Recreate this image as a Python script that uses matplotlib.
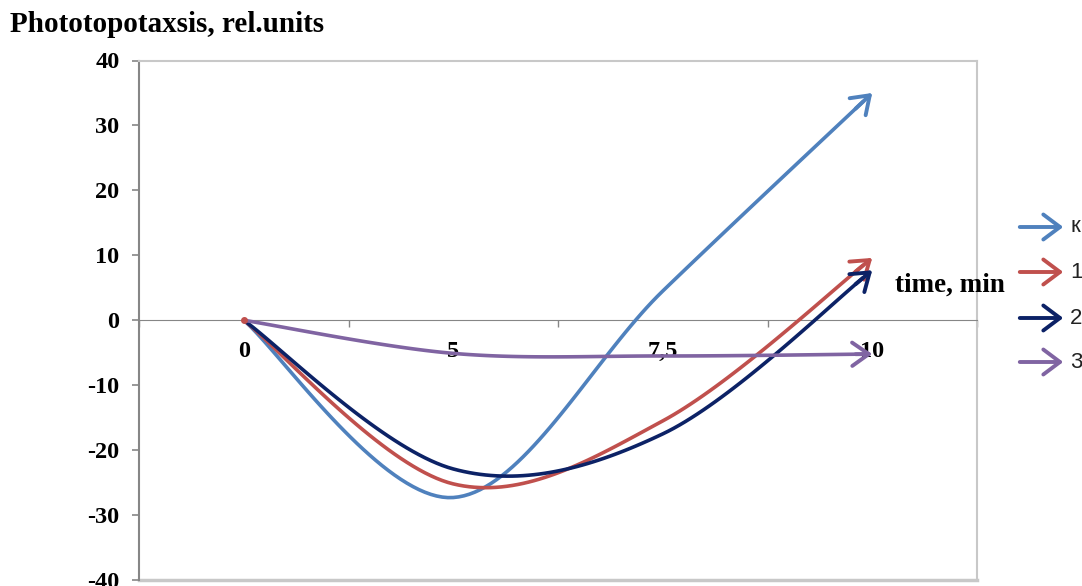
import numpy as np
import matplotlib
matplotlib.use('Agg')
import matplotlib.pyplot as plt
from matplotlib.patches import FancyArrowPatch

# category labels on the x axis (Excel category axis)
time_labels = ['0', '5', '7,5', '10']
# series values
control = [0, -27.3, 4.5, 35]
series_1 = [0, -25.2, -15.5, 9.6]
series_2 = [0, -22.9, -17.5, 7.7]
series_3 = [0, -5.1, -5.5, -5.2]
names = ['к', '1', '2', '3']
colors = ['#4F81BD', '#C0504D', '#0C2266', '#8064A2']


def excel_smooth(x, y, n=40):
    # cubic bezier through the points, Excel style (catmull-rom / 6)
    P = np.column_stack([x, y]).astype(float)
    P_ext = np.vstack([P[0], P, P[-1]])
    out = []
    t = np.linspace(0, 1, n)[:, None]
    for i in range(len(P) - 1):
        p0, p1, p2, p3 = P_ext[i], P_ext[i+1], P_ext[i+2], P_ext[i+3]
        c1 = p1 + (p2 - p0) / 6.0
        c2 = p2 - (p3 - p1) / 6.0
        seg = (1-t)**3*p1 + 3*(1-t)**2*t*c1 + 3*(1-t)*t**2*c2 + t**3*p2
        out.append(seg if i == 0 else seg[1:])
    s = np.vstack(out)
    return s[:, 0], s[:, 1]


plt.rcParams['font.family'] = ['Liberation Serif', 'DejaVu Serif']
plt.rcParams['axes.unicode_minus'] = False

fig = plt.figure(figsize=(10.82, 5.86), dpi=100)
ax = fig.add_axes([139/1082, 1-580/586, (977-139)/1082, (580-60.5)/586])

xs = np.arange(len(time_labels))
data = [control, series_1, series_2, series_3]
for vals, c in zip(data, colors):
    sx, sy = excel_smooth(xs, vals)
    ax.plot(sx[:-3], sy[:-3], color=c, lw=2.6, solid_capstyle='round', zorder=3)
    ax.annotate('', xy=(sx[-1], sy[-1]), xytext=(sx[-6], sy[-6]),
                arrowprops=dict(arrowstyle='->,head_length=0.6,head_width=0.42',
                                color=c, lw=2.8, shrinkA=0, shrinkB=0,
                                mutation_scale=20), zorder=3)
ax.plot(xs[0], series_1[0], 'o', color=colors[1], ms=4, zorder=4)

ax.set_xlim(-0.5, 3.5)
ax.set_ylim(-40, 40)
ax.set_yticks(np.arange(-40, 41, 10))
ax.set_xticks(xs)
ax.set_xticklabels(time_labels)
ax.set_xticks(np.arange(-0.5, 3.6, 1), minor=True)

ax.spines['bottom'].set_position(('data', 0))
ax.spines['bottom'].set_color('#868686')
ax.spines['left'].set_color('#868686')
ax.spines['left'].set_linewidth(1.5)
for s in ['top', 'right']:
    ax.spines[s].set_color('#c8c8c8')
    ax.spines[s].set_linewidth(1.5)
ax.axhline(-40, color='#c8c8c8', lw=2.5, zorder=1, clip_on=False)

ax.tick_params(axis='y', direction='out', length=5, width=1.2, color='#868686',
               pad=9, labelsize=17.5)
ax.tick_params(axis='x', which='major', length=0, pad=15, labelsize=17.5)
ax.tick_params(axis='x', which='minor', direction='out', length=5, width=1,
               color='#868686')
for lab in ax.get_xticklabels() + ax.get_yticklabels():
    lab.set_fontweight('bold')

fig.text(10/1082, 1-25/586, 'Phototopotaxsis, rel.units', fontsize=21,
         fontweight='bold', va='center', ha='left')
fig.text(895/1082, 1-285/586, 'time, min', fontsize=19.5, fontweight='bold',
         va='center', ha='left')

# legend with arrow keys at the right edge
leg_y = [227, 272, 318, 362]
for name, c, yy in zip(names, colors, leg_y):
    yf = 1 - yy/586
    arr = FancyArrowPatch((1017/1082, yf), (1066/1082, yf), transform=fig.transFigure,
                          arrowstyle='->,head_length=0.6,head_width=0.45',
                          color=c, lw=2.8, mutation_scale=20)
    fig.add_artist(arr)
    fig.text(1070/1082, yf, name, fontsize=16, family=['Liberation Sans', 'DejaVu Sans'],
             va='center', ha='left', color='#222222')

fig.savefig('out.png', dpi=100)
